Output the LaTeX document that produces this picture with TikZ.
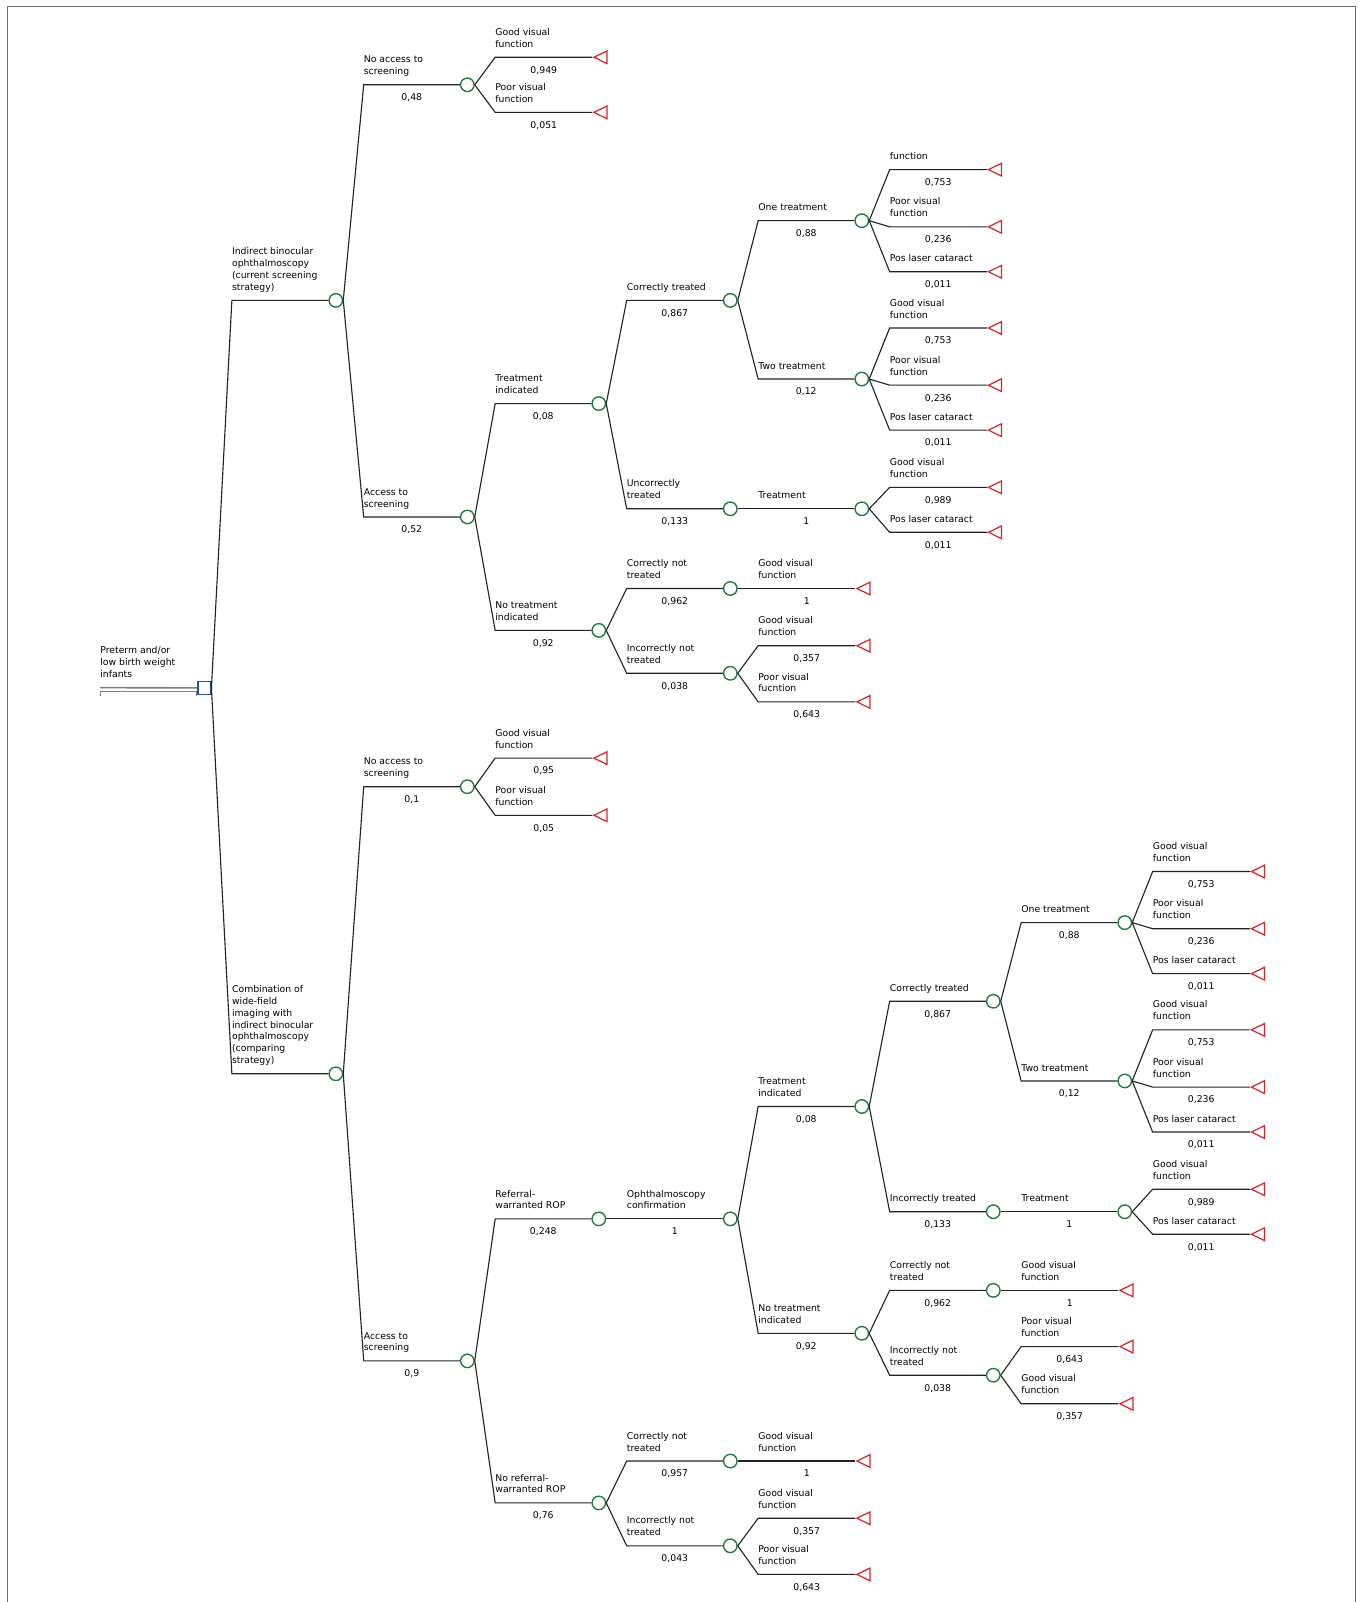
\documentclass[tikz,border=0pt]{standalone}
\usepackage{fontspec}
\setmainfont{DejaVu Sans}
\usetikzlibrary{shapes.geometric,calc}
\definecolor{cgreen}{RGB}{30,125,60}
\definecolor{cred}{RGB}{215,35,45}
\definecolor{cblue}{RGB}{35,80,160}
\definecolor{cline}{RGB}{35,35,35}
\definecolor{cframe}{RGB}{110,110,110}
\def\cZ{200}\def\cA{328.7}\def\cB{457.4}\def\cC{586.1}\def\cD{714.8}
\def\cE{843.5}\def\cF{972.2}\def\cG{1100.9}\def\cH{1229.6}
\newcommand\br[4]{%
  \draw[conn] (#1.east) -- ([xshift=20pt]#1.east |- #2) coordinate (bend) -- (#2);
  \node[lab] at ([yshift=6pt]bend) {#3\strut};
  \node[prob,yshift=-15.5pt] at ($(bend)!0.5!(#2)$) {#4};
}
\newcommand\ch[3]{\node[chance] (#1) at (#2,#3) {};}
\newcommand\tm[3]{\node[term] (#1) at ({#2-6.3},#3) {};}
\begin{document}
\begin{tikzpicture}[x=1pt,y=-1pt,
  chance/.style={circle,draw=cgreen,line width=1.35pt,minimum size=13.2pt,inner sep=0pt,fill=white},
  term/.style={isosceles triangle,isosceles triangle stretches,shape border rotate=180,
    draw=cred,line width=1.2pt,minimum width=12.4pt,minimum height=12.7pt,inner sep=0pt,anchor=apex},
  decision/.style={rectangle,draw=cblue,line width=1.4pt,minimum size=12.5pt,inner sep=0pt,fill=white},
  conn/.style={draw=cline,line width=1.1pt},
  lab/.style={font=\fontsize{9.1}{11.7}\selectfont,align=left,inner sep=0pt,anchor=south west,text=black},
  prob/.style={font=\fontsize{9.1}{11.7}\selectfont,inner sep=0pt,anchor=base,text=black}]
\useasboundingbox (0,0) rectangle (1333,1568);
\draw[cframe,line width=1.5pt] (7.2,1572) -- (7.2,6.4) -- (1326.8,6.4) -- (1326.8,1572);
% root
\node[decision] (root) at (\cZ,673.3) {};
\coordinate (lead) at (98,673);
\draw[gray,line width=1.6pt] (lead) -- (root.west);
\draw[gray,line width=0.6pt] (98.5,681) -- (98.5,676.5) -- (192.5,676.5) -- (192.5,681);
\node[lab] (rootlab) at (98,667) {Preterm and/or\\low birth weight\\infants\strut};
% ---------- nodes top ----------
\ch{A}{\cA}{294}
\ch{B1}{\cB}{83}
\tm{tB1a}{\cC}{56}\tm{tB1b}{\cC}{110}
\ch{B2}{\cB}{506}
\ch{C1}{\cC}{395}
\ch{D1}{\cD}{294}
\ch{E1}{\cE}{216}
\tm{tE1a}{\cF}{166}\tm{tE1b}{\cF}{222}\tm{tE1c}{\cF}{266}
\ch{E2}{\cE}{371}
\tm{tE2a}{\cF}{321}\tm{tE2b}{\cF}{377}\tm{tE2c}{\cF}{421}
\ch{D2}{\cD}{498}
\ch{E3}{\cE}{498}
\tm{tE3a}{\cF}{477}\tm{tE3b}{\cF}{521}
\ch{C2}{\cC}{617}
\ch{D3}{\cD}{576}
\tm{tD3}{\cE}{576}
\ch{D4}{\cD}{659}
\tm{tD4a}{\cE}{632}\tm{tD4b}{\cE}{687}
% ---------- nodes bottom ----------
\ch{Ab}{\cA}{1051}
\ch{F1}{\cB}{770}
\tm{tF1a}{\cC}{742}\tm{tF1b}{\cC}{798}
\ch{F2}{\cB}{1332}
\ch{G1}{\cC}{1193}
\ch{H1}{\cD}{1193}
\ch{I1}{\cE}{1083}
\ch{J1}{\cF}{980}
\ch{K1}{\cG}{903}
\tm{tK1a}{\cH}{853}\tm{tK1b}{\cH}{909}\tm{tK1c}{\cH}{953}
\ch{K2}{\cG}{1058}
\tm{tK2a}{\cH}{1008}\tm{tK2b}{\cH}{1064}\tm{tK2c}{\cH}{1108}
\ch{J2}{\cF}{1186}
\ch{K3}{\cG}{1186}
\tm{tK3a}{\cH}{1164}\tm{tK3b}{\cH}{1208}
\ch{I2}{\cE}{1305}
\ch{J3}{\cF}{1263}
\tm{tJ3}{\cG}{1263}
\ch{J4}{\cF}{1346}
\tm{tJ4a}{\cG}{1318}\tm{tJ4b}{\cG}{1374}
\ch{G2}{\cC}{1471}
\ch{H2}{\cD}{1430}
\tm{tH2}{\cE}{1430}
\ch{H3}{\cD}{1513}
\tm{tH3a}{\cE}{1486}\tm{tH3b}{\cE}{1541}
% ---------- branches top ----------
\br{root}{A.west}{Indirect binocular\\ophthalmoscopy\\(current screening\\strategy)}{}
\br{A}{B1.west}{No access to\\screening}{0,48}
\br{B1}{tB1a.apex}{Good visual\\function}{0,949}
\br{B1}{tB1b.apex}{Poor visual\\function}{0,051}
\br{A}{B2.west}{Access to\\screening}{0,52}
\br{B2}{C1.west}{Treatment\\indicated}{0,08}
\br{C1}{D1.west}{Correctly treated}{0,867}
\br{D1}{E1.west}{One treatment}{0,88}
\br{E1}{tE1a.apex}{function}{0,753}
\br{E1}{tE1b.apex}{Poor visual\\function}{0,236}
\br{E1}{tE1c.apex}{Pos laser cataract}{0,011}
\br{D1}{E2.west}{Two treatment}{0,12}
\br{E2}{tE2a.apex}{Good visual\\function}{0,753}
\br{E2}{tE2b.apex}{Poor visual\\function}{0,236}
\br{E2}{tE2c.apex}{Pos laser cataract}{0,011}
\br{C1}{D2.west}{Uncorrectly\\treated}{0,133}
\br{D2}{E3.west}{Treatment}{1}
\br{E3}{tE3a.apex}{Good visual\\function}{0,989}
\br{E3}{tE3b.apex}{Pos laser cataract}{0,011}
\br{B2}{C2.west}{No treatment\\indicated}{0,92}
\br{C2}{D3.west}{Correctly not\\treated}{0,962}
\br{D3}{tD3.apex}{Good visual\\function}{1}
\br{C2}{D4.west}{Incorrectly not\\treated}{0,038}
\br{D4}{tD4a.apex}{Good visual\\function}{0,357}
\br{D4}{tD4b.apex}{Poor visual\\fucntion}{0,643}
% ---------- branches bottom ----------
\br{root}{Ab.west}{Combination of\\wide-field\\imaging with\\indirect binocular\\ophthalmoscopy\\(comparing\\strategy)}{}
\br{Ab}{F1.west}{No access to\\screening}{0,1}
\br{F1}{tF1a.apex}{Good visual\\function}{0,95}
\br{F1}{tF1b.apex}{Poor visual\\function}{0,05}
\br{Ab}{F2.west}{Access to\\screening}{0,9}
\br{F2}{G1.west}{Referral-\\warranted ROP}{0,248}
\br{G1}{H1.west}{Ophthalmoscopy\\confirmation}{1}
\br{H1}{I1.west}{Treatment\\indicated}{0,08}
\br{I1}{J1.west}{Correctly treated}{0,867}
\br{J1}{K1.west}{One treatment}{0,88}
\br{K1}{tK1a.apex}{Good visual\\function}{0,753}
\br{K1}{tK1b.apex}{Poor visual\\function}{0,236}
\br{K1}{tK1c.apex}{Pos laser cataract}{0,011}
\br{J1}{K2.west}{Two treatment}{0,12}
\br{K2}{tK2a.apex}{Good visual\\function}{0,753}
\br{K2}{tK2b.apex}{Poor visual\\function}{0,236}
\br{K2}{tK2c.apex}{Pos laser cataract}{0,011}
\br{I1}{J2.west}{Incorrectly treated}{0,133}
\br{J2}{K3.west}{Treatment}{1}
\br{K3}{tK3a.apex}{Good visual\\function}{0,989}
\br{K3}{tK3b.apex}{Pos laser cataract}{0,011}
\br{H1}{I2.west}{No treatment\\indicated}{0,92}
\br{I2}{J3.west}{Correctly not\\treated}{0,962}
\br{J3}{tJ3.apex}{Good visual\\function}{1}
\br{I2}{J4.west}{Incorrectly not\\treated}{0,038}
\br{J4}{tJ4a.apex}{Poor visual\\function}{0,643}
\br{J4}{tJ4b.apex}{Good visual\\function}{0,357}
\br{F2}{G2.west}{No referral-\\warranted ROP}{0,76}
\br{G2}{H2.west}{Correctly not\\treated}{0,957}
\br{H2}{tH2.apex}{Good visual\\function}{1}
\br{G2}{H3.west}{Incorrectly not\\treated}{0,043}
\br{H3}{tH3a.apex}{Good visual\\function}{0,357}
\br{H3}{tH3b.apex}{Poor visual\\function}{0,643}
\end{tikzpicture}
\end{document}
